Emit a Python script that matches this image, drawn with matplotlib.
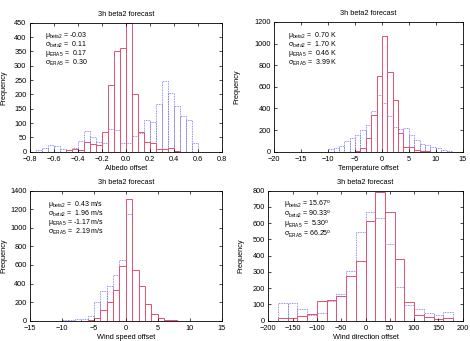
import numpy as np
import matplotlib
matplotlib.use("Agg")
import matplotlib.pyplot as plt

plt.rcParams['font.family'] = ['Liberation Sans', 'DejaVu Sans']
plt.rcParams['mathtext.fontset'] = 'custom'
plt.rcParams['mathtext.rm'] = 'Liberation Sans'
plt.rcParams['mathtext.it'] = 'Liberation Sans:italic'

RED = '#e8506e'
BLUE = '#7070f0'

# albedo offset, bin width 0.05 (left edges)
albedo_edges = np.round(np.arange(-0.75, 0.60, 0.05), 2)
albedo_beta2 = [0, 0, 0, 0, 0, 5, 8, 5, 35, 27, 22, 68, 232, 352, 362,
                450, 203, 70, 33, 30, 10, 8, 12, 2, 0, 0, 0]
albedo_era5 = [5, 12, 25, 20, 8, 5, 12, 38, 72, 50, 35, 30, 80, 75, 30,
               30, 55, 65, 110, 105, 165, 248, 205, 160, 125, 110, 30]

# temperature offset, bin width 1 K
temp_edges = np.arange(-10, 13, 1)
temp_beta2 = [0, 0, 0, 0, 0, 10, 30, 130, 340, 700, 1070, 740, 480, 175,
              45, 45, 20, 10, 5, 0, 0, 0, 0]
temp_era5 = [25, 30, 55, 95, 130, 150, 200, 250, 380, 520, 450, 330, 230,
             210, 215, 150, 110, 70, 60, 40, 30, 20, 5]

# wind speed offset, bin width 1 m/s
speed_edges = np.arange(-10, 8, 1)
speed_beta2 = [0, 0, 0, 0, 5, 25, 120, 205, 330, 590, 1310, 545, 370, 185,
               70, 25, 10, 5]
speed_era5 = [5, 5, 15, 20, 55, 200, 320, 370, 490, 650, 1150, 0, 0, 0,
              0, 0, 0, 0]

# wind direction offset, bin width 20 deg
dir_edges = np.arange(-180, 180, 20)
dir_beta2 = [15, 15, 30, 40, 120, 125, 150, 275, 370, 615, 790, 670, 380,
             115, 35, 25, 10, 15]
dir_era5 = [110, 110, 70, 35, 50, 120, 165, 305, 545, 670, 635, 475, 210,
            95, 70, 50, 35, 55]

stats = {
    'albedo': ['-0.03', ' 0.11', ' 0.17', ' 0.30'],
    'temp': [' 0.70 K', ' 1.70 K', ' 0.46 K', ' 3.99 K'],
    'speed': [' 0.43 m/s', ' 1.96 m/s', '-1.17 m/s', ' 2.19 m/s'],
    'dir': ['15.67$^{\\rm o}$', '90.33$^{\\rm o}$', ' 5.30$^{\\rm o}$',
            '66.25$^{\\rm o}$'],
}
stat_names = ['\u03bc$_{\\rm beta2}$', '\u03c3$_{\\rm beta2}$',
              '\u03bc$_{\\rm ERA5}$', '\u03c3$_{\\rm ERA5}$']

W, H = 470, 341
fig = plt.figure(figsize=(W / 100, H / 100), dpi=100)
FS = 5.3


def px_axes(left, top, right, bottom):
    return fig.add_axes([left / W, (H - bottom) / H, (right - left) / W, (bottom - top) / H])


panels = [
    # axes box in px, edges, beta2, era5, width, xlim, xticks, ylim, yticks, xlabel, key, text pos, ylabel x
    ((30, 22.7, 221.7, 151.7), albedo_edges, albedo_beta2, albedo_era5, 0.05,
     (-0.8, 0.8), np.round(np.arange(-0.8, 0.81, 0.2), 1), (0, 450), np.arange(0, 451, 50),
     'Albedo offset', 'albedo', (45, 30), 7),
    ((274.3, 22, 462.7, 151.7), temp_edges, temp_beta2, temp_era5, 1,
     (-20, 15), np.arange(-20, 16, 5), (0, 1200), np.arange(0, 1201, 200),
     'Temperature offset', 'temp', (288, 30), 240),
    ((30, 190.7, 221.7, 320.7), speed_edges, speed_beta2, speed_era5, 1,
     (-15, 15), np.arange(-15, 16, 5), (0, 1400), np.arange(0, 1401, 200),
     'Wind speed offset', 'speed', (48, 199), 7),
    ((268.3, 190.7, 462.7, 320.7), dir_edges, dir_beta2, dir_era5, 20,
     (-200, 200), np.arange(-200, 201, 50), (0, 800), np.arange(0, 801, 100),
     'Wind direction offset', 'dir', (284, 199), 244),
]

for box, edges, beta2, era5, width, xlim, xticks, ylim, yticks, xlabel, key, tpos, ylx in panels:
    ax = px_axes(*box)
    ax.bar(edges, era5, width=width, align='edge', fill=False, edgecolor=BLUE,
           linestyle=(0, (1, 1)), linewidth=0.6)
    ax.bar(edges, beta2, width=width, align='edge', fill=False, edgecolor=RED,
           linewidth=0.7)
    ax.set_xlim(*xlim)
    ax.set_ylim(*ylim)
    ax.set_xticks(xticks)
    ax.set_yticks(yticks)
    ax.tick_params(direction='in', length=2.5, width=0.5, labelsize=FS,
                   top=True, right=True)
    ax.tick_params(axis='x', pad=3)
    ax.tick_params(axis='y', pad=2.5)
    for sp in ax.spines.values():
        sp.set_linewidth(0.6)
    ax.set_title('3h beta2 forecast', fontsize=FS, pad=5)
    ax.set_xlabel(xlabel, fontsize=FS, labelpad=1.5)
    ax.set_ylabel('Frequency', fontsize=FS)
    ax.yaxis.set_label_coords((ylx - box[0]) / (box[2] - box[0]), 0.5)
    # stats block as one multi-line text
    block = '\n'.join(name + ' = ' + val for name, val in zip(stat_names, stats[key]))
    fig.text(tpos[0] / W, 1 - tpos[1] / H, block, fontsize=5.0,
             va='top', ha='left', linespacing=0.78)

fig.savefig('out.png', dpi=100)
